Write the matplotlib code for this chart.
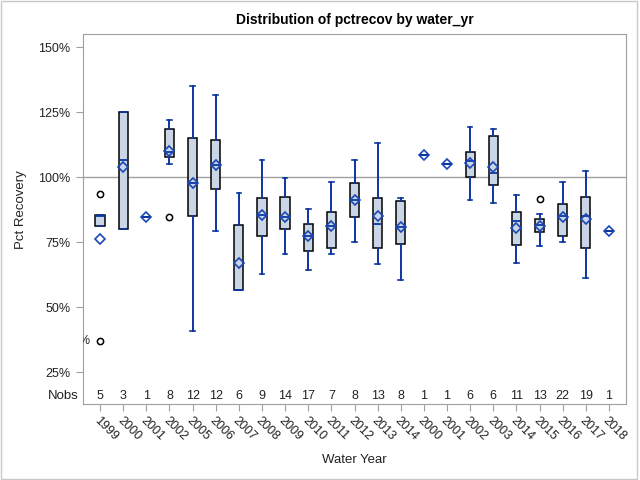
import matplotlib
matplotlib.use('Agg')
import matplotlib.pyplot as plt
from matplotlib.patches import Rectangle
from matplotlib.transforms import blended_transform_factory, ScaledTranslation

plt.rcParams['font.family'] = ['Liberation Sans', 'DejaVu Sans']

# Donnees (en %)
labels = ['1999', '2000', '2001', '2002', '2005', '2006', '2007', '2008', '2009', '2010', '2011', '2012',
          '2013', '2014', '2000', '2001', '2002', '2003', '2014', '2015', '2016', '2017', '2018']
nobs = [5, 3, 1, 8, 12, 12, 6, 9, 14, 17, 7, 8, 13, 8, 1, 1, 6, 6, 11, 13, 22, 19, 1]
whislo = [81.0, 79.9, 84.5, 104.9, 40.7, 79.2, 56.4, 62.6, 70.3, 64.2, 70.3, 74.9,
          66.4, 60.3, 108.3, 104.9, 91.2, 89.9, 66.8, 73.3, 74.9, 61.0, 79.1]
q1 = [81.0, 79.9, 84.5, 107.6, 84.9, 95.3, 56.4, 77.2, 79.9, 71.4, 72.6, 84.5,
      72.6, 74.1, 108.3, 104.9, 100.0, 96.8, 73.7, 78.7, 77.2, 72.6, 79.1]
med = [84.9, 106.4, 84.5, 109.6, 97.8, 104.7, 56.4, 85.3, 84.6, 77.5, 81.1, 91.1,
       81.8, 80.8, 108.3, 104.9, 106.3, 101.5, 83.1, 81.6, 85.0, 84.9, 79.1]
q3 = [85.3, 125.0, 84.5, 118.3, 114.9, 114.1, 81.4, 91.8, 92.2, 81.8, 86.4, 97.6,
      91.8, 90.7, 108.3, 104.9, 109.5, 115.7, 86.4, 83.7, 89.5, 92.2, 79.1]
whishi = [85.3, 125.0, 84.5, 121.8, 134.9, 131.4, 93.7, 106.4, 99.8, 87.6, 98.0, 106.4,
          113.0, 91.8, 108.3, 104.9, 119.1, 118.3, 93.2, 85.7, 98.0, 102.2, 79.1]
means = [76.0, 103.8, 84.5, 109.9, 97.8, 104.5, 66.8, 85.3, 84.5, 77.2, 81.0, 91.0,
         84.9, 80.7, 108.3, 104.9, 105.3, 103.7, 80.3, 81.3, 84.5, 83.7, 79.1]
outliers = [[37.0, 93.3], [], [], [84.5], [], [], [], [], [], [], [], [],
            [], [], [], [], [], [], [], [91.4], [], [], []]
yticks = [25, 50, 75, 100, 125, 150]

pos = list(range(1, len(labels) + 1))
stats = []
for i in range(len(labels)):
    stats.append(dict(label=labels[i], whislo=whislo[i], q1=q1[i], med=med[i], q3=q3[i],
                      whishi=whishi[i], mean=means[i], fliers=outliers[i]))

blue = '#0B36A0'
gris = '#a0a0a0'

fig = plt.figure(figsize=(6.4, 4.8), dpi=100)
ax = fig.add_axes([83/640, 76/480, 543/640, 370/480])

# Ligne de reference a 100%
ax.axhline(100, color=gris, lw=1, zorder=1)

ax.bxp(stats, positions=pos, widths=0.4, capwidths=0.2, showmeans=True, patch_artist=True,
       boxprops=dict(facecolor='#CAD5E5', edgecolor='black', linewidth=1.1),
       whiskerprops=dict(color=blue, linewidth=1.4),
       capprops=dict(color=blue, linewidth=1.2),
       medianprops=dict(color=blue, linewidth=1.3),
       meanprops=dict(marker='D', markerfacecolor='none', markeredgecolor='#1A47B8',
                      markersize=5.5, markeredgewidth=1.2),
       flierprops=dict(marker='o', markerfacecolor='none', markeredgecolor='black',
                       markersize=4.5, markeredgewidth=1.1))

# Etiquette coupee a gauche de la valeur extreme
ax.text(0.61, outliers[0][0], '37%', ha='right', va='center', fontsize=9, color='#222222', clip_on=True)

ax.set_xlim(0.26, 23.74)
ax.set_ylim(12.7, 155)
ax.set_yticks(yticks)
ax.set_yticklabels([f'{v}%' for v in yticks])
ax.set_xticks(pos)
ax.set_xticklabels(labels, rotation=-45, ha='left', va='top', rotation_mode='anchor')
decal = ScaledTranslation(-4/100, 0, fig.dpi_scale_trans)
for lbl in ax.get_xticklabels():
    lbl.set_transform(lbl.get_transform() + decal)

for s in ax.spines.values():
    s.set_color(gris)
ax.tick_params(colors=gris, labelcolor='#222222', labelsize=9, length=5)
ax.tick_params(axis='y', pad=4)
ax.tick_params(axis='x', pad=3)

# Ligne Nobs
trans = blended_transform_factory(ax.transData, ax.transAxes)
for p, n in zip(pos, nobs):
    ax.text(p, 0.0216, str(n), ha='center', va='center', transform=trans, fontsize=9, color='#222222')
ax.text(-0.0074, 0.0216, 'Nobs', ha='right', va='center', transform=ax.transAxes, fontsize=9.5, color='#222222')

ax.set_xlabel('Water Year', fontsize=9.5, color='#222222')
ax.xaxis.set_label_coords(0.5, -0.135)
ax.set_ylabel('Pct Recovery', fontsize=9.5, color='#222222')
ax.yaxis.set_label_coords(-0.103, 0.524)

fig.text(354.5/640, 1 - 20/480, 'Distribution of pctrecov by water_yr', ha='center', va='center',
         fontsize=10, fontweight='bold')

# Cadre de la figure
fig.add_artist(Rectangle((0.5/640, 1/480), 636.5/640, 478.5/480, transform=fig.transFigure,
                         fill=False, edgecolor='#c8c8c8', lw=1))

fig.savefig('out.png', dpi=100)
